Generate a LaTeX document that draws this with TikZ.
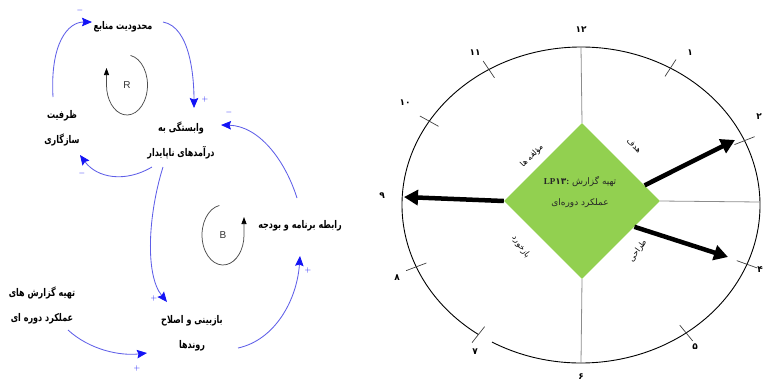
\documentclass[tikz,border=0pt]{standalone}
\usepackage{fontspec}
\setmainfont{DejaVu Sans}
\newfontfamily\fa[Script=Arabic]{DejaVu Sans}
\newfontfamily\fanarrow[Script=Arabic,FakeStretch=0.76]{DejaVu Sans}
\newfontfamily\lpserif{Liberation Serif}
\newfontfamily\arialf{Liberation Sans}
\TeXXeTstate=1
\usetikzlibrary{arrows.meta,calc,shapes.geometric}
\newcommand\prs[1]{{\fa\beginR #1\endR}}
\newcommand\prsn[1]{{\fanarrow\beginR #1\endR}}
\definecolor{cldline}{RGB}{95,95,232}
\definecolor{cldtip}{RGB}{20,20,245}
\definecolor{lpgreen}{RGB}{146,208,80}
\begin{document}
\begin{tikzpicture}[x=1pt,y=-1pt,
 lbl/.style={font=\fanarrow\bfseries\fontsize{10.6}{25}\selectfont,align=center,inner sep=0pt},
 causal/.style={draw=cldline,line width=0.85pt,-{Stealth[length=10pt,width=8.5pt,inset=1.5pt,color=cldtip]}},
 sgn/.style={text=cldtip,font=\bfseries\fontsize{8}{8}\selectfont,inner sep=0pt},
 loopline/.style={draw=black!70,line width=0.75pt},
 looptip/.style={-{Triangle[length=7pt,width=5pt,color=black]}},
 looplbl/.style={font=\arialf\fontsize{10}{10}\selectfont,text=black!80,inner sep=0pt},
 clocknum/.style={font=\fa\bfseries\fontsize{9}{9}\selectfont,inner sep=0pt},
 edgelbl/.style={font=\fa\fontsize{8}{8}\selectfont,inner sep=0pt},
 tickmark/.style={draw=black!75,line width=0.7pt},
 radial/.style={draw=black!45,line width=0.8pt},
 bigarrow/.style={line width=4.5pt,-{Triangle[length=14pt,width=15pt]}},
]
\useasboundingbox (0,0) rectangle (774,384);

% ---------------- left: causal loop diagram ----------------
\node[lbl] (mah) at (123,27) {\prsn{محدودیت منابع}};
\node[lbl] (zarf) at (62,128) {\prsn{ظرفیت}\\\prsn{سازگاری}};
\node[lbl] (vab) at (181,140) {\prsn{وابستگی به}\\\prsn{درآمدهای ناپایدار}};
\node[lbl] (rab) at (300,226) {\prsn{رابطه برنامه و بودجه}};
\node[lbl] (tah) at (42,305) {\prsn{تهیه گزارش های}\\\prsn{عملکرد دوره ای}};
\node[lbl] (baz) at (192,333) {\prsn{بازبینی و اصلاح}\\\prsn{روندها}};

\draw[causal] ($(zarf)+(-9,-31)$) .. controls ($(zarf)+(-12,-85)$) and ($(mah)+(-55,-5)$) .. ($(mah)+(-31,-5)$);
\draw[causal] ($(mah)+(40,-5)$) .. controls ($(mah)+(68,0)$) and ($(vab)+(13,-60)$) .. ($(vab)+(13,-32)$);
\draw[causal] ($(vab)+(-29,27)$) .. controls ($(vab)+(-56,43)$) and ($(zarf)+(35,50)$) .. ($(zarf)+(18,27)$);
\draw[causal] ($(rab)+(-3,-28)$) .. controls ($(rab)+(-15,-66)$) and ($(vab)+(78,-14)$) .. ($(vab)+(40,-15)$);
\draw[causal] ($(vab)+(-18,27)$) .. controls ($(vab)+(-33,75)$) and ($(baz)+(-47,-58)$) .. ($(baz)+(-25,-31)$);
\draw[causal] ($(tah)+(26,25)$) .. controls ($(tah)+(48,45)$) and ($(baz)+(-72,23)$) .. ($(baz)+(-45,20)$);
\draw[causal] ($(baz)+(46,15)$) .. controls ($(baz)+(83,7)$) and ($(rab)+(-3,74)$) .. ($(rab)+(0,30)$);

\node[sgn] (s1) at (80,10) {$-$};
\node[sgn] (s2) at (205,99) {$+$};
\node[sgn] (s3) at (82,173) {$-$};
\node[sgn] (s4) at (229,112) {$-$};
\node[sgn] (s5) at (154,298) {$+$};
\node[sgn] (s6) at (137,368) {$+$};
\node[sgn] (s7) at (308,270) {$+$};

% loop markers
\node[looplbl] (R) at (127,85) {R};
\draw[loopline,looptip] ($(R)+(-80:20.5 and 30)$) arc[start angle=-80,end angle=180,x radius=20.5,y radius=30] -- ++(0,-17);
\node[looplbl] (B) at (223,235) {B};
\draw[loopline,looptip] ($(B)+(-100:21 and 30)$) arc[start angle=-100,end angle=-360,x radius=21,y radius=30] -- ++(0,-18);

% ---------------- right: clock diagram ----------------
\coordinate (C) at (581,205);
\draw[line width=0.9pt] ($(C)+(125:179 and 158)$) arc[start angle=125,end angle=479.8,x radius=179,y radius=158];
\foreach \t in {-24,-60,-121,-148,157,125,54,22}
  \draw[tickmark] ($(C)+(\t:168 and 148.5)$) -- ($(C)+(\t:190 and 168)$);

\node[diamond,fill=lpgreen,minimum width=156pt,minimum height=156pt,inner sep=0pt] (lp) at (582,201) {};
\coordinate (etop) at (581,47);
\coordinate (ebot) at (581,363);
\coordinate (eright) at (760,202);
\draw[radial] (lp.north) -- (etop);
\draw[radial] (lp.south) -- (ebot);
\draw[radial] (lp.east) -- (eright);

\node[font=\fontsize{9}{21}\selectfont,align=center,inner sep=0pt,text=black!85] (lptext) at (580,192)
  {{\lpserif\bfseries LP}{\fa\bfseries ۱۳}{\lpserif\bfseries :}\ \prs{تهیه گزارش}\\\prs{عملکرد دوره‌ای}};

\coordinate (p2) at (735,140);
\coordinate (p4) at (728,257);
\coordinate (p9) at (404,197);
\draw[bigarrow] ($(lp.north)!0.8!(lp.east)$) -- (p2);
\draw[bigarrow] ($(lp.east)!0.33!(lp.south)$) -- (p4);
\draw[bigarrow] (lp.west) -- (p9);

\node[edgelbl,rotate=45] (e1) at (532,156) {\prs{مؤلفه ها}};
\node[edgelbl,rotate=-45] (e2) at (634,146) {\prs{هدف}};
\node[edgelbl,rotate=-55] (e3) at (521,247) {\prs{بازخورد}};
\node[edgelbl,rotate=55] (e4) at (638,251) {\prs{طراحی}};

\node[clocknum] (n12) at (581,30) {۱۲};
\node[clocknum] (n1) at (690,53) {۱};
\node[clocknum] (n2) at (759,117) {۲};
\node[clocknum] (n4) at (760,270) {۴};
\node[clocknum] (n5) at (695,347) {۵};
\node[clocknum] (n6) at (581,377) {۶};
\node[clocknum] (n7) at (475,352) {۷};
\node[clocknum] (n8) at (397,278) {۸};
\node[clocknum] (n9) at (382,196) {۹};
\node[clocknum] (n10) at (405,103) {۱۰};
\node[clocknum] (n11) at (475,53) {۱۱};
\end{tikzpicture}
\end{document}
